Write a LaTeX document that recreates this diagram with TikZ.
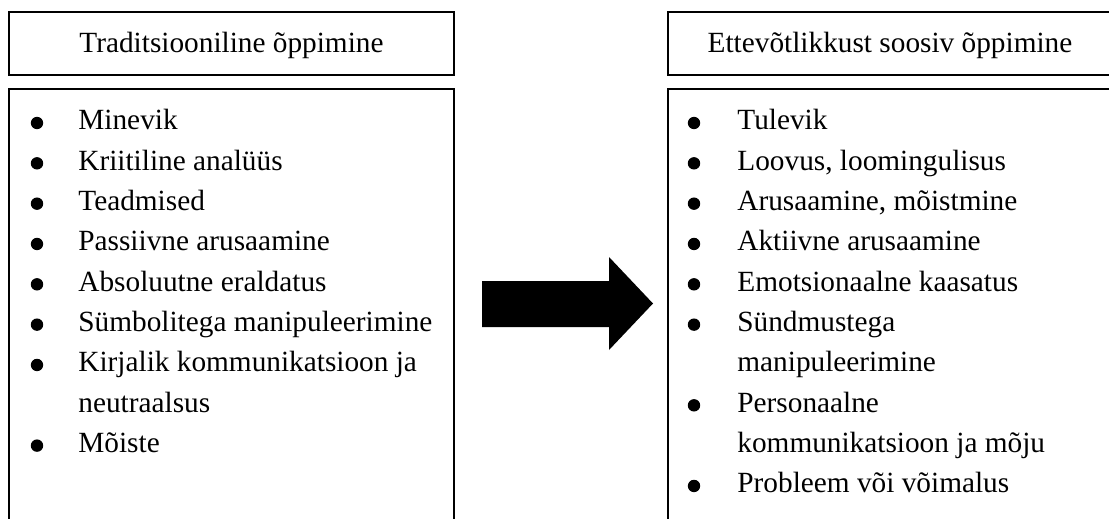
\documentclass[tikz,border=0pt]{standalone}
\usepackage{fontspec}
\setmainfont{Liberation Serif}
\begin{document}
\begin{tikzpicture}[x=0.5pt,y=-0.5pt,
  frame/.style={line width=0.8pt},
  txt/.style={inner sep=0pt, font=\fontsize{14.65pt}{20pt}\selectfont},
  title/.style={txt, anchor=base},
  item/.style={txt, anchor=base west},
  dot/.style={circle, fill=black, inner sep=0pt, minimum size=6.2pt}]
\useasboundingbox (0,0) rectangle (1109,519);
\clip (0,0) rectangle (1109,519);
% frames
\draw[frame] (9,12) rectangle (454,75);
\draw[frame] (9,89) rectangle (454,540);
\draw[frame] (668,12) rectangle (1112,75);
\draw[frame] (668,89) rectangle (1112,540);
% titles
\node[title] (t1) at (231.5,53) {Traditsiooniline õppimine};
\node[title] (t2) at (890,53) {Ettevõtlikkust soosiv õppimine};
% left list
\foreach \t [count=\i] in {Minevik, Kriitiline analüüs, Teadmised, Passiivne arusaamine, Absoluutne eraldatus, Sümbolitega manipuleerimine, Kirjalik kommunikatsioon ja, neutraalsus, Mõiste}
  \node[item] (L\i) at (78,{130+40.33*(\i-1)}) {\t};
\foreach \i in {1,2,3,4,5,6,7,9}
  \node[dot] (LB\i) at (37,{123+40.33*(\i-1)}) {};
% right list
\foreach \t [count=\i] in {Tulevik, {Loovus, loomingulisus}, {Arusaamine, mõistmine}, Aktiivne arusaamine, Emotsionaalne kaasatus, Sündmustega, manipuleerimine, Personaalne, kommunikatsioon ja mõju, Probleem või võimalus}
  \node[item] (R\i) at (737,{130+40.33*(\i-1)}) {\t};
\foreach \i in {1,2,3,4,5,6,8,10}
  \node[dot] (RB\i) at (694,{123+40.33*(\i-1)}) {};
% block arrow
\fill (482,281) -- (609,281) -- (609,257) -- (653,303.5) -- (609,350) -- (609,327) -- (482,327) -- cycle;
\end{tikzpicture}
\end{document}
